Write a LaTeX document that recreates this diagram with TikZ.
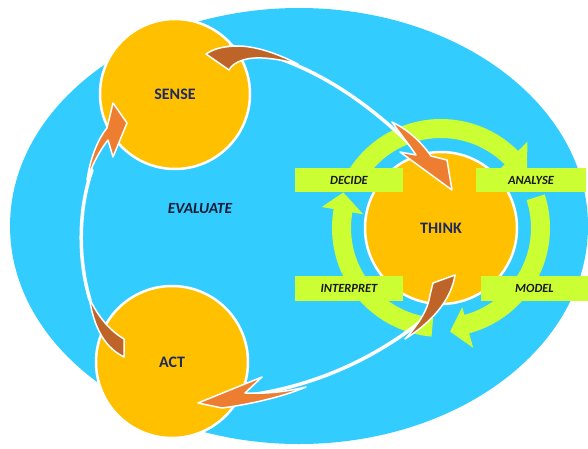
\documentclass[tikz,border=0pt]{standalone}
\usepackage{fontspec}
\setmainfont{Carlito}
\definecolor{skyb}{HTML}{33CCFF}
\definecolor{gold}{HTML}{FFC000}
\definecolor{lime}{HTML}{CCFF33}
\definecolor{orng}{HTML}{ED7D31}
\definecolor{brwn}{HTML}{BE6428}
\definecolor{navy}{HTML}{1F2A5C}
\definecolor{ink}{HTML}{161C36}
\begin{document}
\begin{tikzpicture}[x=1pt,y=1pt,
  bubble/.style={circle, fill=gold, draw=white, line width=2.5pt, inner sep=0pt, minimum size=150pt, font=\bfseries\fontsize{16}{19}\selectfont, text=navy},
  tag/.style={fill=lime, inner sep=0pt, minimum width=108pt, minimum height=24.5pt, font=\bfseries\itshape\fontsize{12.5}{15}\selectfont, text=black!90},
  ring/.style={fill=lime},
  trail/.style={draw=white, line width=3.5pt, line cap=round},
  bandb/.style={fill=brwn, draw=white, line width=1.5pt, line join=round},
  bando/.style={fill=orng, draw=white, line width=1.5pt, line join=round}]
\useasboundingbox (0,0) rectangle (588,448);
\fill[skyb] (299,222) ellipse[x radius=289pt, y radius=218pt];

% circles
\node[bubble] (sense) at (175,354) {SENSE};
\node[bubble, minimum size=152pt] (act) at (172,86) {ACT};
\node[bubble, minimum size=152pt] (think) at (441,220) {THINK};

% green cycle arrows
\begin{scope}[shift={(441,220)}]
\fill[ring] (150:109pt) arc[start angle=150,end angle=45,radius=109pt] -- (45:122pt) -- (30:99.5pt) -- (45:85pt) -- (45:90pt) arc[start angle=45,end angle=150,radius=90pt] -- cycle;
\fill[ring] (18:109pt) arc[start angle=18,end angle=-75,radius=109pt] -- (-75:124pt) -- (-85:104pt) -- (-75:82pt) -- (-75:90pt) arc[start angle=-75,end angle=18,radius=90pt] -- cycle;
\fill[ring] (265:109pt) arc[start angle=265,end angle=170,radius=109pt] -- (170:121pt) -- (160:104pt) -- (170:79pt) -- (170:90pt) arc[start angle=170,end angle=265,radius=90pt] -- cycle;
\end{scope}

% boxes
\node[tag] (decide) at (349,268) {DECIDE};
\node[tag, minimum width=110pt] (analyse) at (531,268) {ANALYSE};
\node[tag] (interpret) at (349,159.5) {INTERPRET};
\node[tag, minimum width=107pt] (model) at (534.5,159.5) {MODEL};

% orange arrow: sense -> think
\draw[trail] (230,402) .. controls (300,391.3) and (366.7,351.7) .. (430,283);
\draw[bandb] (206,394) .. controls (215,400) and (225,402) .. (240,402) .. controls (260,401) and (280,393) .. (298,384) .. controls (275,390) and (255,392) .. (243,388) .. controls (236,386) and (231,382) .. (229,378) -- cycle;
\draw[bando] (392,326) .. controls (402,312) and (410,302) .. (416,293) -- (400,296) -- (452,258) -- (447,288) -- (431,292) .. controls (420,308) and (405,320) .. (392,326) -- cycle;

% orange arrow: think -> act
\draw[trail] (425,130) .. controls (380,93) and (320,63) .. (250,53);
\draw[bandb] (433,165) -- (455,173) .. controls (452,153) and (438,130) .. (405,109) .. controls (418,123) and (428,138) .. (430,153) -- cycle;
\draw[bando] (306,61) .. controls (285,56) and (265,54) .. (245,55) -- (262,71) -- (198,45) -- (222,40) .. controls (245,43) and (280,50) .. (306,61) -- cycle;

% orange arrow: act -> sense
\draw[trail] (90,148) .. controls (78,188) and (78,238) .. (92,278);
\draw[bandb] (89,151) .. controls (93,128) and (100,103) .. (124,91) -- (124,109) .. controls (112,116) and (98,130) .. (89,151) -- cycle;
\draw[bando] (87,268) .. controls (90,288) and (97,308) .. (107,320) -- (113,345) -- (127,325) -- (113,291) -- (108,308) .. controls (100,298) and (92,283) .. (87,268) -- cycle;

\node[font=\bfseries\itshape\fontsize{15.5}{18}\selectfont, text=ink] (evaluate) at (200,239) {EVALUATE};
\end{tikzpicture}
\end{document}
